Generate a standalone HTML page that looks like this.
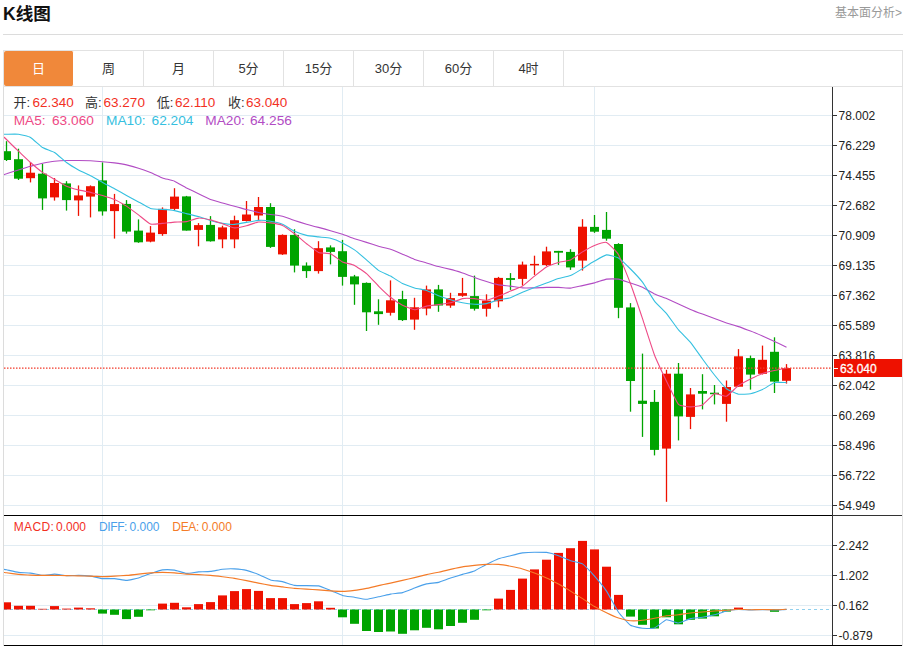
<!DOCTYPE html>
<html lang="zh-CN"><head><meta charset="utf-8"><title>K线图</title>
<style>
html,body{margin:0;padding:0;background:#fff}
body{width:905px;height:646px;position:relative;overflow:hidden;font-family:"Liberation Sans","Noto Sans CJK SC",sans-serif;color:#333}
.title{position:absolute;left:3px;top:1px;font-size:17.6px;font-weight:bold;color:#111;line-height:26px;letter-spacing:0}
.more{position:absolute;right:3px;top:3px;font-size:12px;color:#999;line-height:20px}
.hr{position:absolute;left:3px;top:34px;width:900px;height:1px;background:#dcdcdc}
.tabs{position:absolute;left:3px;top:50px;width:898px;height:35px;border:1px solid #e2e2e2;box-sizing:content-box}
.tab{position:absolute;top:0;width:69px;height:35px;line-height:35px;text-align:center;font-size:13px;color:#333;border-right:1px solid #e2e2e2}
.tab.on{background:#f0883a;color:#fff;border-radius:2px;border-right-color:#fff}
.lg{position:absolute;font-size:13px;line-height:18px;white-space:pre}
.lg.n{color:#f2301f;font-size:13.5px}
.lg.m{font-size:13.7px}
.lg.s{font-size:12px}
</style></head><body>
<div class="title">K线图</div>
<div class="more">基本面分析&gt;</div>
<div class="hr"></div>
<div class="tabs">
<div class="tab on" style="left:0">日</div>
<div class="tab" style="left:70px">周</div>
<div class="tab" style="left:140px">月</div>
<div class="tab" style="left:210px">5分</div>
<div class="tab" style="left:280px">15分</div>
<div class="tab" style="left:350px">30分</div>
<div class="tab" style="left:420px">60分</div>
<div class="tab" style="left:490px">4时</div>
</div>
<svg width="905" height="646" viewBox="0 0 905 646" style="position:absolute;left:0;top:0" font-family="'Liberation Sans','Noto Sans CJK SC',sans-serif">
<defs><clipPath id="cp"><rect x="4" y="87" width="828.5" height="559"/></clipPath></defs>
<rect x="4" y="115" width="828" height="1" fill="#e1ecf3"/>
<rect x="4" y="145" width="828" height="1" fill="#e1ecf3"/>
<rect x="4" y="175" width="828" height="1" fill="#e1ecf3"/>
<rect x="4" y="205" width="828" height="1" fill="#e1ecf3"/>
<rect x="4" y="235" width="828" height="1" fill="#e1ecf3"/>
<rect x="4" y="265" width="828" height="1" fill="#e1ecf3"/>
<rect x="4" y="295" width="828" height="1" fill="#e1ecf3"/>
<rect x="4" y="325" width="828" height="1" fill="#e1ecf3"/>
<rect x="4" y="355" width="828" height="1" fill="#e1ecf3"/>
<rect x="4" y="385" width="828" height="1" fill="#e1ecf3"/>
<rect x="4" y="415" width="828" height="1" fill="#e1ecf3"/>
<rect x="4" y="445" width="828" height="1" fill="#e1ecf3"/>
<rect x="4" y="475" width="828" height="1" fill="#e1ecf3"/>
<rect x="4" y="505" width="828" height="1" fill="#e1ecf3"/>
<rect x="4" y="545" width="828" height="1" fill="#e1ecf3"/>
<rect x="4" y="575" width="828" height="1" fill="#e1ecf3"/>
<rect x="4" y="605" width="828" height="1" fill="#e1ecf3"/>
<rect x="4" y="635" width="828" height="1" fill="#e1ecf3"/>
<rect x="102.0" y="87" width="1" height="558" fill="#e1ecf3"/>
<rect x="342.0" y="87" width="1" height="558" fill="#e1ecf3"/>
<rect x="594.0" y="87" width="1" height="558" fill="#e1ecf3"/>
<rect x="3" y="87" width="1" height="559" fill="#dcdcdc"/>
<rect x="902" y="87" width="1" height="559" fill="#e4e4e4"/>
<g clip-path="url(#cp)">
<line x1="4" y1="609.5" x2="832" y2="609.5" stroke="#8fd0ee" stroke-width="1" stroke-dasharray="3 3"/>
<rect x="5.85" y="141.2" width="1.3" height="19.8" fill="#00a400"/>
<rect x="2.0" y="151.2" width="9" height="8.8" fill="#00a400"/>
<rect x="17.85" y="148.7" width="1.3" height="31.3" fill="#00a400"/>
<rect x="14.0" y="159.2" width="9" height="19.5" fill="#00a400"/>
<rect x="29.85" y="162.0" width="1.3" height="20.4" fill="#ee1100"/>
<rect x="26.0" y="172.7" width="9" height="5.5" fill="#ee1100"/>
<rect x="41.85" y="163.7" width="1.3" height="46.2" fill="#00a400"/>
<rect x="38.0" y="173.7" width="9" height="24.7" fill="#00a400"/>
<rect x="53.85" y="178.0" width="1.3" height="22.6" fill="#ee1100"/>
<rect x="50.0" y="183.0" width="9" height="14.4" fill="#ee1100"/>
<rect x="65.85" y="181.2" width="1.3" height="29.4" fill="#00a400"/>
<rect x="62.0" y="183.4" width="9" height="16.7" fill="#00a400"/>
<rect x="77.85" y="185.4" width="1.3" height="30.5" fill="#ee1100"/>
<rect x="74.0" y="195.4" width="9" height="5.0" fill="#ee1100"/>
<rect x="89.85" y="185.4" width="1.3" height="32.0" fill="#ee1100"/>
<rect x="86.0" y="186.2" width="9" height="10.4" fill="#ee1100"/>
<rect x="101.85" y="162.4" width="1.3" height="53.2" fill="#00a400"/>
<rect x="98.0" y="180.4" width="9" height="31.0" fill="#00a400"/>
<rect x="113.85" y="193.9" width="1.3" height="44.7" fill="#ee1100"/>
<rect x="110.0" y="204.1" width="9" height="7.0" fill="#ee1100"/>
<rect x="125.85" y="200.1" width="1.3" height="33.5" fill="#00a400"/>
<rect x="122.0" y="203.9" width="9" height="27.7" fill="#00a400"/>
<rect x="137.85" y="219.4" width="1.3" height="23.4" fill="#00a400"/>
<rect x="134.0" y="230.6" width="9" height="11.7" fill="#00a400"/>
<rect x="149.85" y="226.1" width="1.3" height="16.2" fill="#ee1100"/>
<rect x="146.0" y="232.6" width="9" height="9.0" fill="#ee1100"/>
<rect x="161.85" y="207.4" width="1.3" height="28.4" fill="#ee1100"/>
<rect x="158.0" y="208.9" width="9" height="25.2" fill="#ee1100"/>
<rect x="173.85" y="188.2" width="1.3" height="22.2" fill="#ee1100"/>
<rect x="170.0" y="196.6" width="9" height="12.3" fill="#ee1100"/>
<rect x="185.85" y="195.9" width="1.3" height="34.7" fill="#00a400"/>
<rect x="182.0" y="196.4" width="9" height="34.2" fill="#00a400"/>
<rect x="197.85" y="223.1" width="1.3" height="23.2" fill="#ee1100"/>
<rect x="194.0" y="225.1" width="9" height="4.8" fill="#ee1100"/>
<rect x="209.85" y="216.1" width="1.3" height="25.5" fill="#00a400"/>
<rect x="206.0" y="224.9" width="9" height="16.4" fill="#00a400"/>
<rect x="221.85" y="225.7" width="1.3" height="22.5" fill="#ee1100"/>
<rect x="218.0" y="227.4" width="9" height="12.0" fill="#ee1100"/>
<rect x="233.85" y="215.7" width="1.3" height="32.5" fill="#ee1100"/>
<rect x="230.0" y="220.2" width="9" height="19.2" fill="#ee1100"/>
<rect x="245.85" y="201.0" width="1.3" height="20.5" fill="#ee1100"/>
<rect x="242.0" y="214.5" width="9" height="6.5" fill="#ee1100"/>
<rect x="257.85" y="197.0" width="1.3" height="23.0" fill="#ee1100"/>
<rect x="254.0" y="207.0" width="9" height="8.5" fill="#ee1100"/>
<rect x="269.85" y="203.2" width="1.3" height="44.7" fill="#00a400"/>
<rect x="266.0" y="207.0" width="9" height="39.9" fill="#00a400"/>
<rect x="281.85" y="234.4" width="1.3" height="20.5" fill="#ee1100"/>
<rect x="278.0" y="234.9" width="9" height="19.5" fill="#ee1100"/>
<rect x="293.85" y="229.2" width="1.3" height="43.2" fill="#00a400"/>
<rect x="290.0" y="234.9" width="9" height="30.7" fill="#00a400"/>
<rect x="305.85" y="262.4" width="1.3" height="15.5" fill="#00a400"/>
<rect x="302.0" y="265.6" width="9" height="5.5" fill="#00a400"/>
<rect x="317.85" y="241.2" width="1.3" height="32.4" fill="#ee1100"/>
<rect x="314.0" y="248.2" width="9" height="22.9" fill="#ee1100"/>
<rect x="329.85" y="245.4" width="1.3" height="19.0" fill="#00a400"/>
<rect x="326.0" y="247.4" width="9" height="4.5" fill="#00a400"/>
<rect x="341.85" y="239.9" width="1.3" height="45.7" fill="#00a400"/>
<rect x="338.0" y="251.2" width="9" height="25.7" fill="#00a400"/>
<rect x="353.85" y="274.9" width="1.3" height="29.9" fill="#00a400"/>
<rect x="350.0" y="276.4" width="9" height="8.0" fill="#00a400"/>
<rect x="365.85" y="282.4" width="1.3" height="48.6" fill="#00a400"/>
<rect x="362.0" y="282.9" width="9" height="29.4" fill="#00a400"/>
<rect x="377.85" y="299.3" width="1.3" height="25.5" fill="#00a400"/>
<rect x="374.0" y="311.3" width="9" height="2.8" fill="#00a400"/>
<rect x="389.85" y="280.4" width="1.3" height="35.2" fill="#ee1100"/>
<rect x="386.0" y="300.3" width="9" height="12.5" fill="#ee1100"/>
<rect x="401.85" y="290.8" width="1.3" height="30.2" fill="#00a400"/>
<rect x="398.0" y="299.1" width="9" height="21.0" fill="#00a400"/>
<rect x="413.85" y="297.8" width="1.3" height="32.0" fill="#ee1100"/>
<rect x="410.0" y="307.3" width="9" height="12.3" fill="#ee1100"/>
<rect x="425.85" y="285.6" width="1.3" height="29.7" fill="#ee1100"/>
<rect x="422.0" y="289.4" width="9" height="19.2" fill="#ee1100"/>
<rect x="437.85" y="284.9" width="1.3" height="26.9" fill="#00a400"/>
<rect x="434.0" y="289.4" width="9" height="16.1" fill="#00a400"/>
<rect x="449.85" y="292.8" width="1.3" height="15.0" fill="#ee1100"/>
<rect x="446.0" y="298.1" width="9" height="7.5" fill="#ee1100"/>
<rect x="461.85" y="277.9" width="1.3" height="18.9" fill="#ee1100"/>
<rect x="458.0" y="293.1" width="9" height="2.7" fill="#ee1100"/>
<rect x="473.85" y="275.6" width="1.3" height="35.0" fill="#00a400"/>
<rect x="470.0" y="296.1" width="9" height="12.7" fill="#00a400"/>
<rect x="485.85" y="294.3" width="1.3" height="22.3" fill="#ee1100"/>
<rect x="482.0" y="300.6" width="9" height="8.2" fill="#ee1100"/>
<rect x="497.85" y="276.9" width="1.3" height="30.4" fill="#ee1100"/>
<rect x="494.0" y="277.9" width="9" height="23.4" fill="#ee1100"/>
<rect x="509.85" y="273.1" width="1.3" height="16.8" fill="#00a400"/>
<rect x="506.0" y="278.1" width="9" height="1.8" fill="#00a400"/>
<rect x="521.85" y="261.6" width="1.3" height="24.0" fill="#ee1100"/>
<rect x="518.0" y="264.6" width="9" height="14.3" fill="#ee1100"/>
<rect x="533.85" y="255.7" width="1.3" height="19.2" fill="#ee1100"/>
<rect x="530.0" y="263.9" width="9" height="1.5" fill="#ee1100"/>
<rect x="545.85" y="246.7" width="1.3" height="19.4" fill="#ee1100"/>
<rect x="542.0" y="251.4" width="9" height="13.7" fill="#ee1100"/>
<rect x="557.85" y="250.9" width="1.3" height="14.0" fill="#00a400"/>
<rect x="554.0" y="250.9" width="9" height="1.8" fill="#00a400"/>
<rect x="569.85" y="249.2" width="1.3" height="20.7" fill="#00a400"/>
<rect x="566.0" y="251.9" width="9" height="15.5" fill="#00a400"/>
<rect x="581.85" y="219.2" width="1.3" height="51.4" fill="#ee1100"/>
<rect x="578.0" y="226.7" width="9" height="33.9" fill="#ee1100"/>
<rect x="593.85" y="215.0" width="1.3" height="17.9" fill="#00a400"/>
<rect x="590.0" y="226.9" width="9" height="4.8" fill="#00a400"/>
<rect x="605.85" y="212.0" width="1.3" height="28.7" fill="#00a400"/>
<rect x="602.0" y="229.9" width="9" height="8.8" fill="#00a400"/>
<rect x="617.85" y="243.2" width="1.3" height="75.0" fill="#00a400"/>
<rect x="614.0" y="244.0" width="9" height="63.8" fill="#00a400"/>
<rect x="629.85" y="303.1" width="1.3" height="108.6" fill="#00a400"/>
<rect x="626.0" y="307.4" width="9" height="73.6" fill="#00a400"/>
<rect x="641.85" y="353.6" width="1.3" height="83.3" fill="#00a400"/>
<rect x="638.0" y="400.7" width="9" height="3.2" fill="#00a400"/>
<rect x="653.85" y="390.0" width="1.3" height="65.4" fill="#00a400"/>
<rect x="650.0" y="401.9" width="9" height="48.0" fill="#00a400"/>
<rect x="665.85" y="369.8" width="1.3" height="132.0" fill="#ee1100"/>
<rect x="662.0" y="373.7" width="9" height="74.9" fill="#ee1100"/>
<rect x="677.85" y="363.0" width="1.3" height="77.4" fill="#00a400"/>
<rect x="674.0" y="373.7" width="9" height="42.7" fill="#00a400"/>
<rect x="689.85" y="388.0" width="1.3" height="41.1" fill="#ee1100"/>
<rect x="686.0" y="394.4" width="9" height="22.5" fill="#ee1100"/>
<rect x="701.85" y="374.2" width="1.3" height="35.2" fill="#00a400"/>
<rect x="698.0" y="391.0" width="9" height="2.7" fill="#00a400"/>
<rect x="713.85" y="385.0" width="1.3" height="19.4" fill="#00a400"/>
<rect x="710.0" y="392.7" width="9" height="1.5" fill="#00a400"/>
<rect x="725.85" y="380.5" width="1.3" height="41.2" fill="#ee1100"/>
<rect x="722.0" y="387.0" width="9" height="16.9" fill="#ee1100"/>
<rect x="737.85" y="349.1" width="1.3" height="37.6" fill="#ee1100"/>
<rect x="734.0" y="356.3" width="9" height="30.4" fill="#ee1100"/>
<rect x="749.85" y="355.6" width="1.3" height="34.0" fill="#00a400"/>
<rect x="746.0" y="358.1" width="9" height="16.5" fill="#00a400"/>
<rect x="761.85" y="345.6" width="1.3" height="28.9" fill="#ee1100"/>
<rect x="758.0" y="359.8" width="9" height="14.0" fill="#ee1100"/>
<rect x="773.85" y="337.3" width="1.3" height="55.7" fill="#00a400"/>
<rect x="770.0" y="351.8" width="9" height="29.8" fill="#00a400"/>
<rect x="785.85" y="364.1" width="1.3" height="19.5" fill="#ee1100"/>
<rect x="782.0" y="368.1" width="9" height="12.7" fill="#ee1100"/>
<rect x="2.0" y="602.3" width="9" height="7.2" fill="#ee1100"/>
<rect x="14.0" y="605.8" width="9" height="3.7" fill="#ee1100"/>
<rect x="26.0" y="605.8" width="9" height="3.7" fill="#ee1100"/>
<rect x="38.0" y="608.8" width="9" height="0.7" fill="#ee1100"/>
<rect x="50.0" y="606.1" width="9" height="3.4" fill="#ee1100"/>
<rect x="62.0" y="608.6" width="9" height="0.9" fill="#ee1100"/>
<rect x="74.0" y="607.6" width="9" height="1.9" fill="#ee1100"/>
<rect x="86.0" y="608.3" width="9" height="1.2" fill="#ee1100"/>
<rect x="98.0" y="609.5" width="9" height="4.1" fill="#00a400"/>
<rect x="110.0" y="609.5" width="9" height="5.3" fill="#00a400"/>
<rect x="122.0" y="609.5" width="9" height="9.6" fill="#00a400"/>
<rect x="134.0" y="609.5" width="9" height="7.3" fill="#00a400"/>
<rect x="146.0" y="609.5" width="9" height="0.8" fill="#00a400"/>
<rect x="158.0" y="603.6" width="9" height="5.9" fill="#ee1100"/>
<rect x="170.0" y="602.8" width="9" height="6.7" fill="#ee1100"/>
<rect x="182.0" y="607.3" width="9" height="2.2" fill="#ee1100"/>
<rect x="194.0" y="604.1" width="9" height="5.4" fill="#ee1100"/>
<rect x="206.0" y="602.1" width="9" height="7.4" fill="#ee1100"/>
<rect x="218.0" y="595.4" width="9" height="14.1" fill="#ee1100"/>
<rect x="230.0" y="591.1" width="9" height="18.4" fill="#ee1100"/>
<rect x="242.0" y="589.1" width="9" height="20.4" fill="#ee1100"/>
<rect x="254.0" y="590.9" width="9" height="18.6" fill="#ee1100"/>
<rect x="266.0" y="598.1" width="9" height="11.4" fill="#ee1100"/>
<rect x="278.0" y="598.1" width="9" height="11.4" fill="#ee1100"/>
<rect x="290.0" y="604.1" width="9" height="5.4" fill="#ee1100"/>
<rect x="302.0" y="603.1" width="9" height="6.4" fill="#ee1100"/>
<rect x="314.0" y="601.3" width="9" height="8.2" fill="#ee1100"/>
<rect x="326.0" y="607.8" width="9" height="1.7" fill="#ee1100"/>
<rect x="338.0" y="609.5" width="9" height="7.8" fill="#00a400"/>
<rect x="350.0" y="609.5" width="9" height="14.3" fill="#00a400"/>
<rect x="362.0" y="609.5" width="9" height="21.5" fill="#00a400"/>
<rect x="374.0" y="609.5" width="9" height="22.5" fill="#00a400"/>
<rect x="386.0" y="609.5" width="9" height="22.0" fill="#00a400"/>
<rect x="398.0" y="609.5" width="9" height="24.3" fill="#00a400"/>
<rect x="410.0" y="609.5" width="9" height="20.8" fill="#00a400"/>
<rect x="422.0" y="609.5" width="9" height="18.3" fill="#00a400"/>
<rect x="434.0" y="609.5" width="9" height="19.8" fill="#00a400"/>
<rect x="446.0" y="609.5" width="9" height="16.5" fill="#00a400"/>
<rect x="458.0" y="609.5" width="9" height="13.3" fill="#00a400"/>
<rect x="470.0" y="609.5" width="9" height="10.3" fill="#00a400"/>
<rect x="482.0" y="609.5" width="9" height="0.8" fill="#00a400"/>
<rect x="494.0" y="598.6" width="9" height="10.9" fill="#ee1100"/>
<rect x="506.0" y="589.9" width="9" height="19.6" fill="#ee1100"/>
<rect x="518.0" y="578.6" width="9" height="30.9" fill="#ee1100"/>
<rect x="530.0" y="569.4" width="9" height="40.1" fill="#ee1100"/>
<rect x="542.0" y="559.7" width="9" height="49.8" fill="#ee1100"/>
<rect x="554.0" y="552.9" width="9" height="56.6" fill="#ee1100"/>
<rect x="566.0" y="548.2" width="9" height="61.3" fill="#ee1100"/>
<rect x="578.0" y="540.9" width="9" height="68.6" fill="#ee1100"/>
<rect x="590.0" y="549.4" width="9" height="60.1" fill="#ee1100"/>
<rect x="602.0" y="566.7" width="9" height="42.8" fill="#ee1100"/>
<rect x="614.0" y="594.9" width="9" height="14.6" fill="#ee1100"/>
<rect x="626.0" y="609.5" width="9" height="7.1" fill="#00a400"/>
<rect x="638.0" y="609.5" width="9" height="15.3" fill="#00a400"/>
<rect x="650.0" y="609.5" width="9" height="19.0" fill="#00a400"/>
<rect x="662.0" y="609.5" width="9" height="7.8" fill="#00a400"/>
<rect x="674.0" y="609.5" width="9" height="14.8" fill="#00a400"/>
<rect x="686.0" y="609.5" width="9" height="10.3" fill="#00a400"/>
<rect x="698.0" y="609.5" width="9" height="9.1" fill="#00a400"/>
<rect x="710.0" y="609.5" width="9" height="6.8" fill="#00a400"/>
<rect x="722.0" y="609.5" width="9" height="2.1" fill="#00a400"/>
<rect x="734.0" y="607.6" width="9" height="1.9" fill="#ee1100"/>
<rect x="770.0" y="609.5" width="9" height="2.3" fill="#00a400"/>
<path d="M3.5 174.9C3.7 174.8 5.5 174.1 6.5 173.8C7.5 173.5 16.9 170.4 18.5 169.9C20.1 169.4 28.9 166.6 30.5 166.2C32.1 165.8 40.9 163.5 42.5 163.2C44.1 162.9 52.9 161.4 54.5 161.2C56.1 161.0 64.9 160.5 66.5 160.5C68.1 160.5 76.9 160.5 78.5 160.5C80.1 160.5 88.9 160.6 90.5 160.7C92.1 160.8 100.9 161.6 102.5 161.7C104.1 161.8 112.9 162.7 114.5 162.9C116.1 163.1 124.9 164.5 126.5 164.9C128.1 165.3 136.9 167.7 138.5 168.2C140.1 168.7 148.9 171.8 150.5 172.4C152.1 173.0 160.9 177.3 162.5 177.9C164.1 178.5 172.9 180.5 174.5 181.2C176.1 181.9 184.9 187.1 186.5 187.9C188.1 188.7 196.9 192.9 198.5 193.7C200.1 194.5 208.9 198.8 210.5 199.4C212.1 200.0 220.9 202.5 222.5 203.0C224.1 203.5 232.9 205.8 234.5 206.2C236.1 206.6 244.9 209.1 246.5 209.5C248.1 209.9 256.9 212.2 258.5 212.5C260.1 212.8 268.9 214.3 270.5 214.5C272.1 214.7 280.9 215.8 282.5 216.2C284.1 216.6 292.9 220.0 294.5 220.5C296.1 221.0 304.9 223.7 306.5 224.2C308.1 224.7 316.9 227.0 318.5 227.4C320.1 227.8 328.9 230.2 330.5 230.7C332.1 231.2 340.9 233.7 342.5 234.2C344.1 234.7 352.9 238.2 354.5 238.7C356.1 239.2 364.9 241.9 366.5 242.4C368.1 242.9 376.9 245.7 378.5 246.2C380.1 246.7 388.9 248.7 390.5 249.2C392.1 249.7 400.9 253.5 402.5 254.2C404.1 254.9 412.9 258.8 414.5 259.4C416.1 260.0 424.9 262.4 426.5 262.9C428.1 263.4 436.9 266.1 438.5 266.5C440.1 266.9 448.9 269.0 450.5 269.4C452.1 269.8 460.9 272.4 462.5 272.9C464.1 273.4 472.9 276.8 474.5 277.4C476.1 278.0 484.9 281.1 486.5 281.6C488.1 282.1 496.9 284.6 498.5 284.9C500.1 285.2 508.9 285.9 510.5 286.1C512.1 286.3 520.9 287.8 522.5 287.9C524.1 288.0 532.9 287.9 534.5 287.9C536.1 287.9 544.9 287.4 546.5 287.4C548.1 287.4 556.9 287.4 558.5 287.4C560.1 287.4 568.9 288.2 570.5 288.1C572.1 288.0 580.9 285.9 582.5 285.6C584.1 285.3 592.9 283.3 594.5 282.9C596.1 282.5 604.9 279.4 606.5 279.1C608.1 278.8 616.9 278.8 618.5 279.1C620.1 279.4 628.9 282.5 630.5 283.0C632.1 283.5 640.9 286.6 642.5 287.3C644.1 288.0 652.9 293.2 654.5 294.0C656.1 294.8 664.9 297.9 666.5 298.6C668.1 299.3 676.9 303.4 678.5 304.1C680.1 304.8 688.9 308.7 690.5 309.4C692.1 310.1 700.9 313.5 702.5 314.1C704.1 314.7 712.9 318.0 714.5 318.6C716.1 319.2 724.9 322.4 726.5 322.9C728.1 323.4 736.9 326.1 738.5 326.6C740.1 327.1 748.9 330.5 750.5 331.1C752.1 331.7 760.9 335.4 762.5 336.1C764.1 336.8 772.9 340.9 774.5 341.6C776.1 342.3 785.7 346.9 786.5 347.3" fill="none" stroke="#b24cc4" stroke-width="1.1" stroke-linejoin="round"/>
<path d="M3.5 134.2C3.7 134.2 5.5 134.2 6.5 134.2C7.5 134.2 16.9 134.0 18.5 134.2C20.1 134.4 28.9 136.6 30.5 137.5C32.1 138.4 40.9 146.5 42.5 147.5C44.1 148.5 52.9 151.5 54.5 152.5C56.1 153.5 64.9 161.3 66.5 162.5C68.1 163.7 76.9 169.1 78.5 170.0C80.1 170.9 88.9 174.9 90.5 175.7C92.1 176.5 100.9 181.5 102.5 182.4C104.1 183.3 112.9 187.8 114.5 188.7C116.1 189.6 124.9 194.5 126.5 195.4C128.1 196.3 136.9 201.0 138.5 201.9C140.1 202.8 148.9 207.9 150.5 208.4C152.1 208.9 160.9 209.3 162.5 209.4C164.1 209.5 172.9 210.3 174.5 210.6C176.1 210.9 184.9 213.2 186.5 213.6C188.1 214.0 196.9 216.1 198.5 216.6C200.1 217.1 208.9 219.9 210.5 220.4C212.1 220.9 220.9 223.1 222.5 223.4C224.1 223.7 232.9 224.5 234.5 224.4C236.1 224.3 244.9 222.7 246.5 222.4C248.1 222.1 256.9 220.5 258.5 220.4C260.1 220.3 268.9 220.9 270.5 221.2C272.1 221.5 280.9 223.5 282.5 224.2C284.1 224.9 292.9 230.5 294.5 231.2C296.1 231.9 304.9 235.0 306.5 235.4C308.1 235.8 316.9 236.7 318.5 236.9C320.1 237.1 328.9 237.8 330.5 238.2C332.1 238.6 340.9 242.1 342.5 242.9C344.1 243.7 352.9 248.8 354.5 249.9C356.1 251.0 364.9 258.5 366.5 259.9C368.1 261.3 376.9 269.3 378.5 270.4C380.1 271.5 388.9 275.2 390.5 276.1C392.1 277.0 400.9 282.8 402.5 283.6C404.1 284.4 412.9 287.4 414.5 287.9C416.1 288.4 424.9 289.9 426.5 290.4C428.1 290.9 436.9 295.1 438.5 295.7C440.1 296.3 448.9 299.3 450.5 299.8C452.1 300.3 460.9 302.5 462.5 302.8C464.1 303.1 472.9 304.2 474.5 304.3C476.1 304.4 484.9 303.9 486.5 303.6C488.1 303.3 496.9 300.2 498.5 299.8C500.1 299.4 508.9 298.3 510.5 297.8C512.1 297.3 520.9 293.0 522.5 292.3C524.1 291.6 532.9 288.0 534.5 287.4C536.1 286.8 544.9 283.7 546.5 283.1C548.1 282.5 556.9 279.1 558.5 278.6C560.1 278.1 568.9 276.3 570.5 275.6C572.1 274.9 580.9 269.6 582.5 268.6C584.1 267.6 592.9 262.0 594.5 261.1C596.1 260.2 604.9 255.1 606.5 254.9C608.1 254.7 616.9 257.1 618.5 258.0C620.1 258.9 628.9 267.4 630.5 269.0C632.1 270.6 640.9 280.1 642.5 282.2C644.1 284.3 652.9 299.0 654.5 301.1C656.1 303.2 664.9 311.7 666.5 313.6C668.1 315.5 676.9 328.0 678.5 329.9C680.1 331.8 688.9 340.4 690.5 342.3C692.1 344.2 700.9 356.8 702.5 359.0C704.1 361.2 712.9 373.0 714.5 375.0C716.1 377.0 724.9 387.4 726.5 388.7C728.1 390.0 736.9 393.9 738.5 394.2C740.1 394.5 748.9 394.0 750.5 393.7C752.1 393.4 760.9 390.2 762.5 389.5C764.1 388.8 772.9 383.1 774.5 382.6C776.1 382.1 785.7 382.6 786.5 382.6" fill="none" stroke="#35c0e0" stroke-width="1.1" stroke-linejoin="round"/>
<path d="M3.5 136.7C3.7 136.9 5.5 138.5 6.5 139.5C7.5 140.5 16.9 149.7 18.5 151.2C20.1 152.7 28.9 161.1 30.5 162.5C32.1 163.9 40.9 171.3 42.5 172.4C44.1 173.5 52.9 178.3 54.5 179.2C56.1 180.1 64.9 185.5 66.5 186.2C68.1 186.9 76.9 189.5 78.5 189.9C80.1 190.3 88.9 192.0 90.5 192.4C92.1 192.8 100.9 194.9 102.5 195.4C104.1 195.9 112.9 198.7 114.5 199.4C116.1 200.1 124.9 205.1 126.5 206.1C128.1 207.1 136.9 213.7 138.5 214.9C140.1 216.1 148.9 223.5 150.5 224.1C152.1 224.7 160.9 223.5 162.5 223.4C164.1 223.3 172.9 222.2 174.5 222.1C176.1 222.0 184.9 221.9 186.5 221.6C188.1 221.3 196.9 218.2 198.5 218.1C200.1 218.0 208.9 219.5 210.5 219.9C212.1 220.3 220.9 223.2 222.5 223.7C224.1 224.2 232.9 227.8 234.5 227.9C236.1 228.0 244.9 226.1 246.5 225.7C248.1 225.3 256.9 222.2 258.5 222.0C260.1 221.8 268.9 222.7 270.5 222.9C272.1 223.1 280.9 224.7 282.5 225.4C284.1 226.1 292.9 232.5 294.5 233.7C296.1 234.9 304.9 242.5 306.5 243.7C308.1 244.9 316.9 251.7 318.5 252.4C320.1 253.1 328.9 253.1 330.5 253.7C332.1 254.3 340.9 261.1 342.5 261.9C344.1 262.7 352.9 264.6 354.5 265.4C356.1 266.2 364.9 272.2 366.5 273.6C368.1 275.0 376.9 284.5 378.5 286.1C380.1 287.7 388.9 296.0 390.5 297.3C392.1 298.6 400.9 304.5 402.5 305.3C404.1 306.1 412.9 309.7 414.5 309.8C416.1 309.9 424.9 306.4 426.5 306.1C428.1 305.8 436.9 304.8 438.5 304.6C440.1 304.4 448.9 303.2 450.5 302.8C452.1 302.4 460.9 298.9 462.5 298.6C464.1 298.3 472.9 298.5 474.5 298.6C476.1 298.7 484.9 300.5 486.5 300.3C488.1 300.1 496.9 296.7 498.5 296.1C500.1 295.5 508.9 291.8 510.5 291.1C512.1 290.4 520.9 287.1 522.5 286.1C524.1 285.1 532.9 277.4 534.5 276.1C536.1 274.8 544.9 267.8 546.5 266.9C548.1 266.0 556.9 262.9 558.5 262.4C560.1 261.9 568.9 260.6 570.5 259.9C572.1 259.2 580.9 252.9 582.5 251.9C584.1 250.9 592.9 246.0 594.5 245.4C596.1 244.8 604.9 241.8 606.5 242.4C608.1 243.0 616.9 251.9 618.5 254.7C620.1 257.5 628.9 279.4 630.5 283.7C632.1 288.0 640.9 313.8 642.5 318.6C644.1 323.4 652.9 350.8 654.5 355.0C656.1 359.2 664.9 377.9 666.5 381.2C668.1 384.5 676.9 402.7 678.5 404.4C680.1 406.1 688.9 406.9 690.5 406.9C692.1 406.9 700.9 405.8 702.5 404.9C704.1 404.0 712.9 394.3 714.5 393.7C716.1 393.1 724.9 396.7 726.5 396.2C728.1 395.7 736.9 386.6 738.5 385.5C740.1 384.4 748.9 379.8 750.5 379.0C752.1 378.2 760.9 374.1 762.5 373.5C764.1 372.9 772.9 370.8 774.5 370.5C776.1 370.2 785.7 368.4 786.5 368.3" fill="none" stroke="#ee4a86" stroke-width="1.1" stroke-linejoin="round"/>
<path d="M3.5 569.4C3.7 569.4 5.5 569.6 6.5 569.8C7.5 570.0 16.9 572.2 18.5 572.4C20.1 572.6 28.9 572.9 30.5 573.1C32.1 573.3 40.9 575.3 42.5 575.4C44.1 575.5 52.9 574.1 54.5 574.1C56.1 574.1 64.9 575.5 66.5 575.6C68.1 575.7 76.9 575.4 78.5 575.4C80.1 575.4 88.9 575.9 90.5 576.1C92.1 576.3 100.9 578.4 102.5 578.6C104.1 578.8 112.9 578.5 114.5 578.6C116.1 578.7 124.9 580.4 126.5 580.4C128.1 580.4 136.9 578.4 138.5 577.9C140.1 577.4 148.9 574.1 150.5 573.6C152.1 573.1 160.9 570.1 162.5 569.9C164.1 569.7 172.9 569.9 174.5 570.1C176.1 570.3 184.9 573.3 186.5 573.4C188.1 573.5 196.9 572.0 198.5 571.9C200.1 571.8 208.9 571.6 210.5 571.4C212.1 571.2 220.9 569.5 222.5 569.3C224.1 569.1 232.9 568.8 234.5 568.9C236.1 569.0 244.9 570.0 246.5 570.4C248.1 570.8 256.9 573.8 258.5 574.4C260.1 575.0 268.9 579.4 270.5 579.9C272.1 580.4 280.9 581.2 282.5 581.6C284.1 582.0 292.9 585.1 294.5 585.4C296.1 585.7 304.9 585.6 306.5 585.6C308.1 585.6 316.9 585.6 318.5 585.9C320.1 586.2 328.9 589.8 330.5 590.4C332.1 591.0 340.9 594.9 342.5 595.4C344.1 595.9 352.9 597.0 354.5 597.3C356.1 597.6 364.9 599.3 366.5 599.3C368.1 599.3 376.9 597.1 378.5 596.8C380.1 596.5 388.9 594.4 390.5 594.1C392.1 593.8 400.9 593.0 402.5 592.6C404.1 592.2 412.9 588.7 414.5 588.1C416.1 587.5 424.9 584.3 426.5 583.9C428.1 583.5 436.9 582.8 438.5 582.4C440.1 582.0 448.9 578.6 450.5 578.1C452.1 577.6 460.9 574.9 462.5 574.4C464.1 573.9 472.9 571.6 474.5 570.9C476.1 570.2 484.9 565.2 486.5 564.4C488.1 563.6 496.9 559.3 498.5 558.7C500.1 558.1 508.9 556.1 510.5 555.7C512.1 555.3 520.9 553.1 522.5 552.9C524.1 552.7 532.9 552.2 534.5 552.2C536.1 552.2 544.9 552.2 546.5 552.4C548.1 552.6 556.9 555.1 558.5 555.7C560.1 556.3 568.9 560.2 570.5 560.7C572.1 561.2 580.9 562.9 582.5 563.9C584.1 564.9 592.9 574.3 594.5 576.1C596.1 577.9 604.9 588.7 606.5 591.1C608.1 593.5 616.9 610.0 618.5 612.3C620.1 614.6 628.9 624.2 630.5 625.3C632.1 626.4 640.9 628.1 642.5 628.3C644.1 628.5 652.9 628.6 654.5 628.0C656.1 627.4 664.9 620.1 666.5 619.8C668.1 619.5 676.9 623.1 678.5 623.0C680.1 622.9 688.9 619.0 690.5 618.6C692.1 618.2 700.9 617.6 702.5 617.3C704.1 617.0 712.9 615.2 714.5 614.8C716.1 614.4 724.9 611.4 726.5 611.0C728.1 610.6 736.9 609.6 738.5 609.5C740.1 609.4 748.9 610.0 750.5 610.0C752.1 610.0 760.9 609.6 762.5 609.6C764.1 609.6 772.9 610.0 774.5 610.0C776.1 610.0 785.7 609.4 786.5 609.4" fill="none" stroke="#4aa0ea" stroke-width="1.1" stroke-linejoin="round"/>
<path d="M3.5 572.4C3.7 572.4 5.5 572.7 6.5 572.8C7.5 572.9 16.9 574.2 18.5 574.4C20.1 574.6 28.9 575.0 30.5 575.1C32.1 575.2 40.9 575.4 42.5 575.4C44.1 575.4 52.9 575.4 54.5 575.4C56.1 575.4 64.9 575.6 66.5 575.6C68.1 575.6 76.9 575.9 78.5 575.9C80.1 575.9 88.9 576.1 90.5 576.1C92.1 576.1 100.9 576.6 102.5 576.6C104.1 576.6 112.9 576.2 114.5 576.1C116.1 576.0 124.9 575.5 126.5 575.4C128.1 575.3 136.9 574.3 138.5 574.1C140.1 573.9 148.9 573.0 150.5 572.9C152.1 572.8 160.9 572.4 162.5 572.4C164.1 572.4 172.9 572.8 174.5 572.9C176.1 573.0 184.9 574.0 186.5 574.1C188.1 574.2 196.9 574.5 198.5 574.6C200.1 574.7 208.9 575.3 210.5 575.4C212.1 575.5 220.9 576.5 222.5 576.7C224.1 576.9 232.9 578.1 234.5 578.4C236.1 578.7 244.9 580.3 246.5 580.6C248.1 580.9 256.9 582.8 258.5 583.1C260.1 583.4 268.9 585.1 270.5 585.4C272.1 585.7 280.9 586.7 282.5 586.9C284.1 587.1 292.9 588.3 294.5 588.4C296.1 588.5 304.9 589.0 306.5 589.1C308.1 589.2 316.9 589.8 318.5 589.9C320.1 590.0 328.9 590.8 330.5 590.9C332.1 591.0 340.9 591.4 342.5 591.4C344.1 591.4 352.9 590.6 354.5 590.4C356.1 590.2 364.9 588.7 366.5 588.4C368.1 588.1 376.9 586.0 378.5 585.6C380.1 585.2 388.9 583.4 390.5 583.1C392.1 582.8 400.9 580.8 402.5 580.4C404.1 580.0 412.9 578.0 414.5 577.6C416.1 577.2 424.9 575.0 426.5 574.6C428.1 574.2 436.9 572.5 438.5 572.2C440.1 571.9 448.9 569.8 450.5 569.4C452.1 569.0 460.9 567.2 462.5 566.9C464.1 566.6 472.9 565.6 474.5 565.4C476.1 565.2 484.9 564.5 486.5 564.4C488.1 564.3 496.9 564.3 498.5 564.4C500.1 564.5 508.9 565.9 510.5 566.2C512.1 566.5 520.9 568.4 522.5 568.9C524.1 569.4 532.9 572.5 534.5 573.1C536.1 573.7 544.9 577.2 546.5 577.9C548.1 578.6 556.9 583.2 558.5 584.1C560.1 585.0 568.9 590.1 570.5 591.1C572.1 592.1 580.9 597.6 582.5 598.6C584.1 599.6 592.9 605.7 594.5 606.6C596.1 607.5 604.9 612.0 606.5 612.8C608.1 613.6 616.9 617.6 618.5 618.1C620.1 618.6 628.9 620.7 630.5 620.8C632.1 620.9 640.9 620.5 642.5 620.3C644.1 620.1 652.9 618.6 654.5 618.3C656.1 618.0 664.9 616.0 666.5 615.8C668.1 615.6 676.9 615.0 678.5 614.8C680.1 614.6 688.9 613.2 690.5 613.0C692.1 612.8 700.9 612.1 702.5 612.0C704.1 611.9 712.9 611.1 714.5 611.0C716.1 610.9 724.9 610.4 726.5 610.3C728.1 610.2 736.9 609.3 738.5 609.3C740.1 609.3 748.9 609.8 750.5 609.8C752.1 609.8 760.9 609.5 762.5 609.5C764.1 609.5 772.9 609.8 774.5 609.8C776.1 609.8 785.7 609.3 786.5 609.3" fill="none" stroke="#f47b28" stroke-width="1.1" stroke-linejoin="round"/>
</g>
<line x1="4" y1="368.2" x2="832" y2="368.2" stroke="#f23a2a" stroke-width="1.3" stroke-dasharray="1.5 1.5"/>
<rect x="832" y="87" width="1" height="559" fill="#333"/>
<rect x="4" y="515" width="828" height="1" fill="#000"/>
<rect x="832" y="515" width="70" height="1" fill="#333"/>
<rect x="4" y="645" width="898" height="1" fill="#000"/>
<rect x="833" y="115" width="4" height="1" fill="#333"/>
<text x="838.6" y="119.8" font-size="12" fill="#222">78.002</text>
<rect x="833" y="145" width="4" height="1" fill="#333"/>
<text x="838.6" y="149.8" font-size="12" fill="#222">76.229</text>
<rect x="833" y="175" width="4" height="1" fill="#333"/>
<text x="838.6" y="179.8" font-size="12" fill="#222">74.455</text>
<rect x="833" y="205" width="4" height="1" fill="#333"/>
<text x="838.6" y="209.8" font-size="12" fill="#222">72.682</text>
<rect x="833" y="235" width="4" height="1" fill="#333"/>
<text x="838.6" y="239.8" font-size="12" fill="#222">70.909</text>
<rect x="833" y="265" width="4" height="1" fill="#333"/>
<text x="838.6" y="269.8" font-size="12" fill="#222">69.135</text>
<rect x="833" y="295" width="4" height="1" fill="#333"/>
<text x="838.6" y="299.8" font-size="12" fill="#222">67.362</text>
<rect x="833" y="325" width="4" height="1" fill="#333"/>
<text x="838.6" y="329.8" font-size="12" fill="#222">65.589</text>
<rect x="833" y="355" width="4" height="1" fill="#333"/>
<text x="838.6" y="359.8" font-size="12" fill="#222">63.816</text>
<rect x="833" y="385" width="4" height="1" fill="#333"/>
<text x="838.6" y="389.8" font-size="12" fill="#222">62.042</text>
<rect x="833" y="415" width="4" height="1" fill="#333"/>
<text x="838.6" y="419.8" font-size="12" fill="#222">60.269</text>
<rect x="833" y="445" width="4" height="1" fill="#333"/>
<text x="838.6" y="449.8" font-size="12" fill="#222">58.496</text>
<rect x="833" y="475" width="4" height="1" fill="#333"/>
<text x="838.6" y="479.8" font-size="12" fill="#222">56.722</text>
<rect x="833" y="505" width="4" height="1" fill="#333"/>
<text x="838.6" y="509.8" font-size="12" fill="#222">54.949</text>
<rect x="833" y="545" width="4" height="1" fill="#333"/>
<text x="838.6" y="549.8" font-size="12" fill="#222">2.242</text>
<rect x="833" y="575" width="4" height="1" fill="#333"/>
<text x="838.6" y="579.8" font-size="12" fill="#222">1.202</text>
<rect x="833" y="605" width="4" height="1" fill="#333"/>
<text x="838.6" y="609.8" font-size="12" fill="#222">0.162</text>
<rect x="833" y="635" width="4" height="1" fill="#333"/>
<text x="838.6" y="639.8" font-size="12" fill="#222">-0.879</text>
<rect x="834" y="359" width="68" height="18" fill="#ee1100"/>
<rect x="834" y="368" width="4" height="1" fill="#fff"/>
<text x="840" y="373" font-size="12" fill="#fff" stroke="#fff" stroke-width="0.3">63.040</text>
</svg>
<div class="lg" style="left:13.5px;top:94px;color:#333">开:</div><div class="lg n" style="left:32.5px;top:94px">62.340</div>
<div class="lg" style="left:85px;top:94px;color:#333">高:</div><div class="lg n" style="left:103.6px;top:94px">63.270</div>
<div class="lg" style="left:156.8px;top:94px;color:#333">低:</div><div class="lg n" style="left:175px;top:94px">62.110</div>
<div class="lg" style="left:228px;top:94px;color:#333">收:</div><div class="lg n" style="left:246px;top:94px">63.040</div>
<div class="lg m" style="left:13.7px;top:112px;color:#ee4a86">MA5:</div><div class="lg m" style="left:52px;top:112px;color:#ee4a86">63.060</div>
<div class="lg m" style="left:106px;top:112px;color:#35c0e0">MA10:</div><div class="lg m" style="left:151.6px;top:112px;color:#35c0e0">62.204</div>
<div class="lg m" style="left:205.3px;top:112px;color:#b24cc4">MA20:</div><div class="lg m" style="left:250px;top:112px;color:#b24cc4">64.256</div>
<div class="lg s" style="left:13.7px;top:518px;color:#f2301f;letter-spacing:0.4px">MACD:</div><div class="lg s" style="left:56px;top:518px;color:#f2301f">0.000</div>
<div class="lg s" style="left:99px;top:518px;color:#4aa0ea;letter-spacing:-0.4px">DIFF:</div><div class="lg s" style="left:129.5px;top:518px;color:#4aa0ea">0.000</div>
<div class="lg s" style="left:172.3px;top:518px;color:#f47b28;letter-spacing:-0.3px">DEA:</div><div class="lg s" style="left:201.8px;top:518px;color:#f47b28">0.000</div>
</body></html>
